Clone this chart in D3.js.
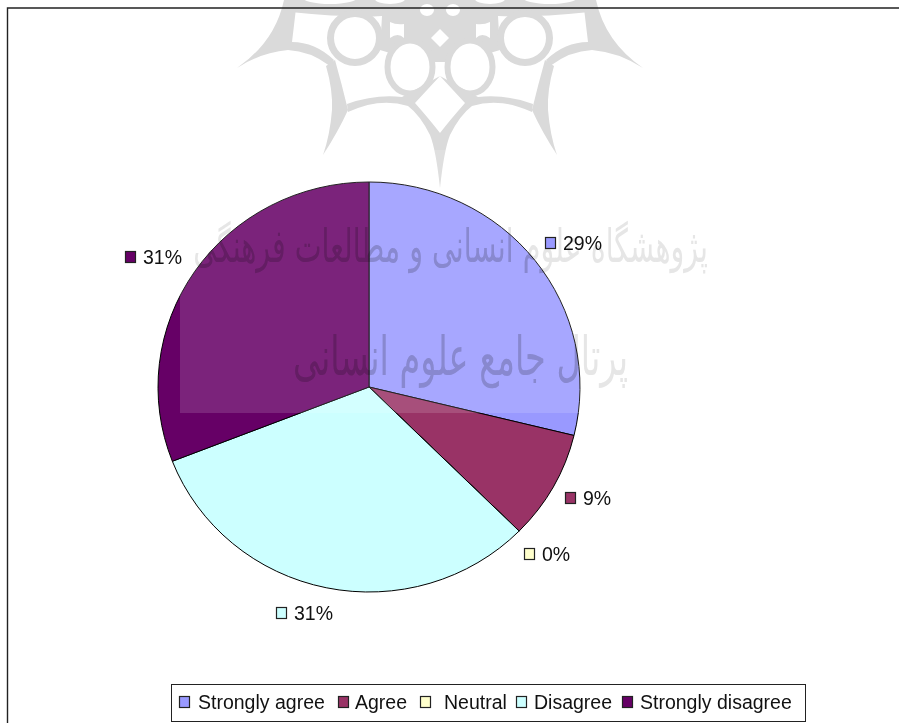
<!DOCTYPE html>
<html><head><meta charset="utf-8">
<script src="https://cdnjs.cloudflare.com/ajax/libs/d3/7.8.5/d3.min.js"></script>
<style>html,body{margin:0;padding:0;background:#fff;overflow:hidden}svg{display:block}</style>
</head><body><div id="chart"></div>
<script>
const categories = ["Strongly agree","Agree","Neutral","Disagree","Strongly disagree"];
const values = [28.8,8.6,0,31.7,30.9];
const sliceLabels = ["29%","9%","0%","31%","31%"];
const colors = ["#9999ff","#993366","#ffffcc","#ccffff","#660066"];
const labelLayout = [[545,243],[565,498],[524,554],[276,613],[125,257]];
const legendX = [179,338,420,516,622];
const legendTextX = [198,355,444,534,640];
const watermarkLines = ["پژوهشگاه علوم انسانی و مطالعات فرهنگی","پرتال جامع علوم انسانی"];

const W=899,H=723,font="'Liberation Sans',Arial,sans-serif";
const svg=d3.select("#chart").append("svg").attr("width",W).attr("height",H);
const defs=svg.append("defs");
defs.append("filter").attr("id","soft").append("feGaussianBlur").attr("stdDeviation",0.6);

// ornament (background watermark)
const orn=svg.append("g").attr("transform","translate(440,0)").attr("filter","url(#soft)");
const G="#dadada";
[1,-1].forEach(s=>{
  const h=orn.append("g").attr("transform",`scale(${s},1)`);
  h.append("path").attr("fill",G).attr("d","M-1,0 L152,0 L150,12 Q90,18 58,16 L60,50 L20,62 L-1,62Z");
  h.append("ellipse").attr("cx",85).attr("cy",38).attr("rx",24.5).attr("ry",24.5).attr("fill","#fff").attr("stroke",G).attr("stroke-width",7);
  h.append("ellipse").attr("cx",30).attr("cy",67).attr("rx",22.5).attr("ry",26.5).attr("fill","#fff").attr("stroke",G).attr("stroke-width",6);
  h.append("path").attr("fill",G).attr("d","M203,68 Q165,42 156,0 L143,0 L148,42 Q125,42 106,60 L110,66 Q130,51 152,50 Q178,52 203,68Z");
  h.append("path").attr("fill",G).attr("d","M105,60 L114,66 Q107,90 108,110 Q110,135 117,155 Q102,132 92,110 Q98,85 105,60Z");
  h.append("path").attr("fill",G).attr("d","M0,76 L25,103 Q10,120 0,133 L0,188 Q4,150 10,135 Q20,115 32,106 Q60,97 92,112 L93,104 Q65,94 38,97 L0,76Z");
  h.append("path").attr("fill","#fff").attr("d","M36,24 Q44,25 50,22 L50,38 Q42,32 36,38Z");
  h.append("ellipse").attr("cx",13).attr("cy",10).attr("rx",7).attr("ry",6).attr("fill","#fff");
  h.append("ellipse").attr("cx",110).attr("cy",-3).attr("rx",28).attr("ry",7).attr("fill","#fff");
  h.append("ellipse").attr("cx",50).attr("cy",-1).attr("rx",15).attr("ry",5).attr("fill","#fff");
});
orn.append("path").attr("fill","#fff").attr("d","M0,29 L9,38 L0,47 L-9,38Z");

// frame
svg.append("path").attr("fill","none").attr("stroke","#222").attr("stroke-width",1.4)
  .attr("d",`M7.5,${H} V8 H${W}`);

// pie
const cx=369,cy=387,rx=211,ry=205;
const pieGen=d3.pie().sort(null).value(d=>d);
const arcGen=d3.arc().innerRadius(0).outerRadius(rx);
const pg=svg.append("g").attr("transform",`translate(${cx},${cy}) scale(1,${ry/rx})`);
pg.selectAll("path").data(pieGen(values)).join("path")
  .attr("d",arcGen).attr("fill",(d,i)=>colors[i])
  .attr("stroke","#000").attr("stroke-width",1).attr("vector-effect","non-scaling-stroke");
defs.append("clipPath").attr("id","pieClip").append("ellipse")
  .attr("cx",cx).attr("cy",cy).attr("rx",rx).attr("ry",ry);

// veil of the scanned watermark
svg.append("rect").attr("x",180).attr("y",150).attr("width",540).attr("height",263)
  .attr("fill","#fff").attr("opacity",0.137);

// Persian watermark text: faint on white, stronger where it crosses the pie
const wm=svg.append("g").attr("id","wmText").attr("filter","url(#soft)");
[[708,262,515,46],[628,375,335,54]].forEach(([x,y,w,h],i)=>{
  const fs=24;
  const t=wm.append("text").attr("text-anchor","end").attr("font-family","'DejaVu Sans'")
    .attr("font-size",fs).text(watermarkLines[i]);
  const sx=w/t.node().getComputedTextLength();
  t.attr("transform",`translate(${x},${y}) scale(${sx},${h/fs})`);
});
wm.attr("fill","#e6e6e6").style("mix-blend-mode","multiply");
const clipG=svg.append("g").attr("clip-path","url(#pieClip)").style("mix-blend-mode","multiply");
clipG.append("use").attr("href","#wmText").attr("fill","#d2d2d8");

// data labels
const lab=svg.append("g");
sliceLabels.forEach((t,i)=>{
  const [x,y]=labelLayout[i];
  lab.append("rect").attr("x",x+.5).attr("y",y-5.5).attr("width",10).attr("height",11)
    .attr("fill",colors[i]).attr("stroke","#222").attr("stroke-width",1.2);
  lab.append("text").attr("x",x+18).attr("y",y+6.5).attr("font-family",font).attr("font-size",19.5).attr("fill","#111").text(t);
});

// legend
svg.append("rect").attr("x",171.5).attr("y",684.5).attr("width",634).attr("height",37)
  .attr("fill","#fff").attr("stroke","#222").attr("stroke-width",1);
categories.forEach((c,i)=>{
  svg.append("rect").attr("x",legendX[i]+.5).attr("y",696.5).attr("width",10).attr("height",11)
    .attr("fill",colors[i]).attr("stroke","#222").attr("stroke-width",1.2);
  svg.append("text").attr("x",legendTextX[i]).attr("y",709).attr("font-family",font).attr("font-size",19.5).attr("fill","#111").text(c);
});
</script></body></html>
